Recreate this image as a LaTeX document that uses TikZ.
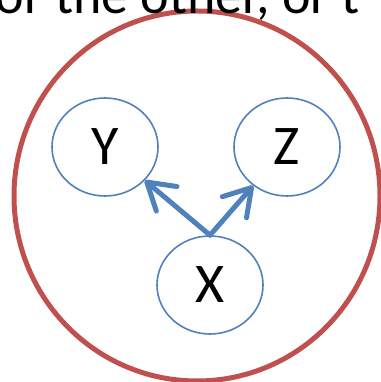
\documentclass[tikz,border=0pt]{standalone}
\usepackage{fontspec}
\setmainfont{Carlito}
\definecolor{myred}{HTML}{C0504D}
\definecolor{myblue}{HTML}{4F81BD}
\usepackage{tikz}
\usetikzlibrary{positioning, shapes.geometric, arrows.meta}

\begin{document}
\begin{tikzpicture}[x=1pt, y=1pt,
    var/.style={ellipse, draw=myblue, line width=1.6pt, minimum width=106pt,
      minimum height=98pt, inner sep=0pt, font=\fontsize{56}{60}\selectfont},
    link/.style={myblue, line width=5pt, line cap=round,
      -{Straight Barb[length=26pt, width=32pt, round]}},
    rim/.style={ellipse, draw=myred, line width=5pt, inner sep=0pt,
      minimum width=366pt, minimum height=370pt}
  ]
      \useasboundingbox (0,0) rectangle (380,382);

      % outer set
      \node[rim] (set) at (197,186) {};

      % variables
      \node[var] (y) at (105,235) {Y};
      \node[var] (z) at (287,235) {Z};
      \node[var] (x) at (210,97) {X};

      % X points to both
      \draw[link] (x.north) -- (y);
      \draw[link] (x.north) -- (z);

      % slide text running over the top edge
      \begin{scope}
        \clip (0,0) rectangle (380,382);
        \node[anchor=base west, inner sep=0pt, font=\fontsize{54}{60}\selectfont]
          (caption) at (-4.5,368) {or the other, or t};
      \end{scope}

    \end{tikzpicture}
\end{document}
